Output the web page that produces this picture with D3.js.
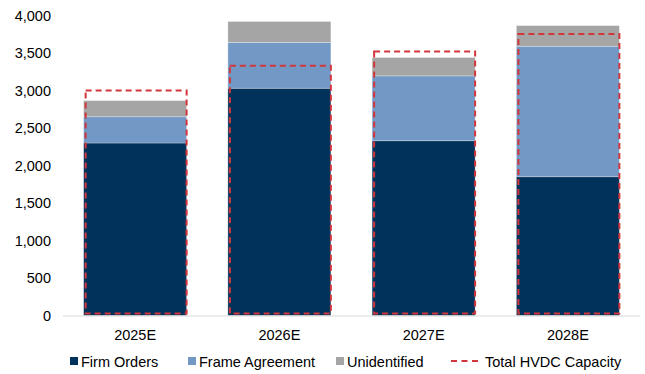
<!DOCTYPE html>
<html>
<head>
<meta charset="utf-8">
<script src="https://cdn.jsdelivr.net/npm/d3@7"></script>
<style>
  html, body { margin: 0; padding: 0; background: #fff; }
  svg { display: block; font-family: "Liberation Sans", Arial, sans-serif; }
</style>
</head>
<body>
<svg id="chart" width="645" height="374"></svg>
<script>
// HVDC order book by year (MW)
const years = ["2025E", "2026E", "2027E", "2028E"];
const firmOrders = [2300, 3030, 2330, 1850];
const frameAgreement = [350, 610, 865, 1740];
const unidentified = [215, 280, 245, 275];
const totalCapacity = [3000, 3330, 3520, 3755];
const yTicks = [0, 500, 1000, 1500, 2000, 2500, 3000, 3500, 4000];

const seriesNames = ["Firm Orders", "Frame Agreement", "Unidentified"];
const colors = { "Firm Orders": "#00325C", "Frame Agreement": "#7299C6", "Unidentified": "#A5A5A5" };
const capColor = "#D0363C";

const rows = years.map((yr, i) => ({
  year: yr,
  "Firm Orders": firmOrders[i],
  "Frame Agreement": frameAgreement[i],
  "Unidentified": unidentified[i],
  capacity: totalCapacity[i]
}));

const svg = d3.select("#chart");
const plotLeft = 63, plotRight = 640, plotTop = 15.5, plotBottom = 315.5;

const x = d3.scaleBand().domain(years).range([plotLeft, plotRight]).paddingInner(0.286).paddingOuter(0.143);
const y = d3.scaleLinear().domain([0, 4000]).range([plotBottom, plotTop]);

const stacked = d3.stack().keys(seriesNames)(rows);

// stacked bars
svg.append("g").selectAll("g")
  .data(stacked)
  .join("g")
  .attr("fill", d => colors[d.key])
  .selectAll("rect")
  .data(d => d)
  .join("rect")
  .attr("x", d => x(d.data.year))
  .attr("y", d => y(d[1]))
  .attr("width", x.bandwidth())
  .attr("height", d => y(d[0]) - y(d[1]))
  .attr("stroke", "#ffffff")
  .attr("stroke-opacity", 0.35)
  .attr("stroke-width", 0.8);

// baseline
svg.append("line")
  .attr("x1", plotLeft).attr("x2", plotRight)
  .attr("y1", plotBottom + 0.5).attr("y2", plotBottom + 0.5)
  .attr("stroke", "#D9D9D9").attr("stroke-width", 1);

// total capacity outlines
svg.append("g").selectAll("rect")
  .data(rows)
  .join("rect")
  .attr("x", d => x(d.year) + 2)
  .attr("y", d => y(d.capacity))
  .attr("width", x.bandwidth() - 2)
  .attr("height", d => y(0) - 2 - y(d.capacity))
  .attr("fill", "none")
  .attr("stroke", capColor)
  .attr("stroke-width", 2)
  .attr("stroke-dasharray", "6,4");

// y axis labels
const yAxis = d3.axisLeft(y).tickValues(yTicks).tickFormat(d3.format(",")).tickSize(0).tickPadding(12);
const gy = svg.append("g").attr("transform", `translate(${plotLeft},0)`).call(yAxis);
gy.select(".domain").remove();
gy.selectAll("text").attr("font-size", 14.5).attr("fill", "#000")
  .attr("font-family", "'Liberation Sans', Arial, sans-serif");

// x axis labels
const xAxis = d3.axisBottom(x).tickSize(0).tickPadding(14);
const gx = svg.append("g").attr("transform", `translate(0,${plotBottom})`).call(xAxis);
gx.select(".domain").remove();
gx.selectAll("text").attr("font-size", 14.5).attr("fill", "#000")
  .attr("font-family", "'Liberation Sans', Arial, sans-serif");

// legend
const legendY = 366.5;
const legendItems = [
  { name: "Firm Orders", x: 70, type: "box" },
  { name: "Frame Agreement", x: 188, type: "box" },
  { name: "Unidentified", x: 336, type: "box" },
  { name: "Total HVDC Capacity", x: 451, type: "dash" }
];
const lg = svg.append("g");
legendItems.forEach(it => {
  if (it.type === "box") {
    lg.append("rect").attr("x", it.x).attr("y", legendY - 9.5).attr("width", 8).attr("height", 8)
      .attr("fill", colors[it.name]);
    lg.append("text").attr("x", it.x + 11).attr("y", legendY).text(it.name)
      .attr("font-size", 14.5).attr("fill", "#000");
  } else {
    lg.append("line").attr("x1", it.x).attr("x2", it.x + 31).attr("y1", legendY - 5.5).attr("y2", legendY - 5.5)
      .attr("stroke", capColor).attr("stroke-width", 2).attr("stroke-dasharray", "6,4.5");
    lg.append("text").attr("x", it.x + 34).attr("y", legendY).text(it.name)
      .attr("font-size", 14.5).attr("fill", "#000");
  }
});
</script>
</body>
</html>
